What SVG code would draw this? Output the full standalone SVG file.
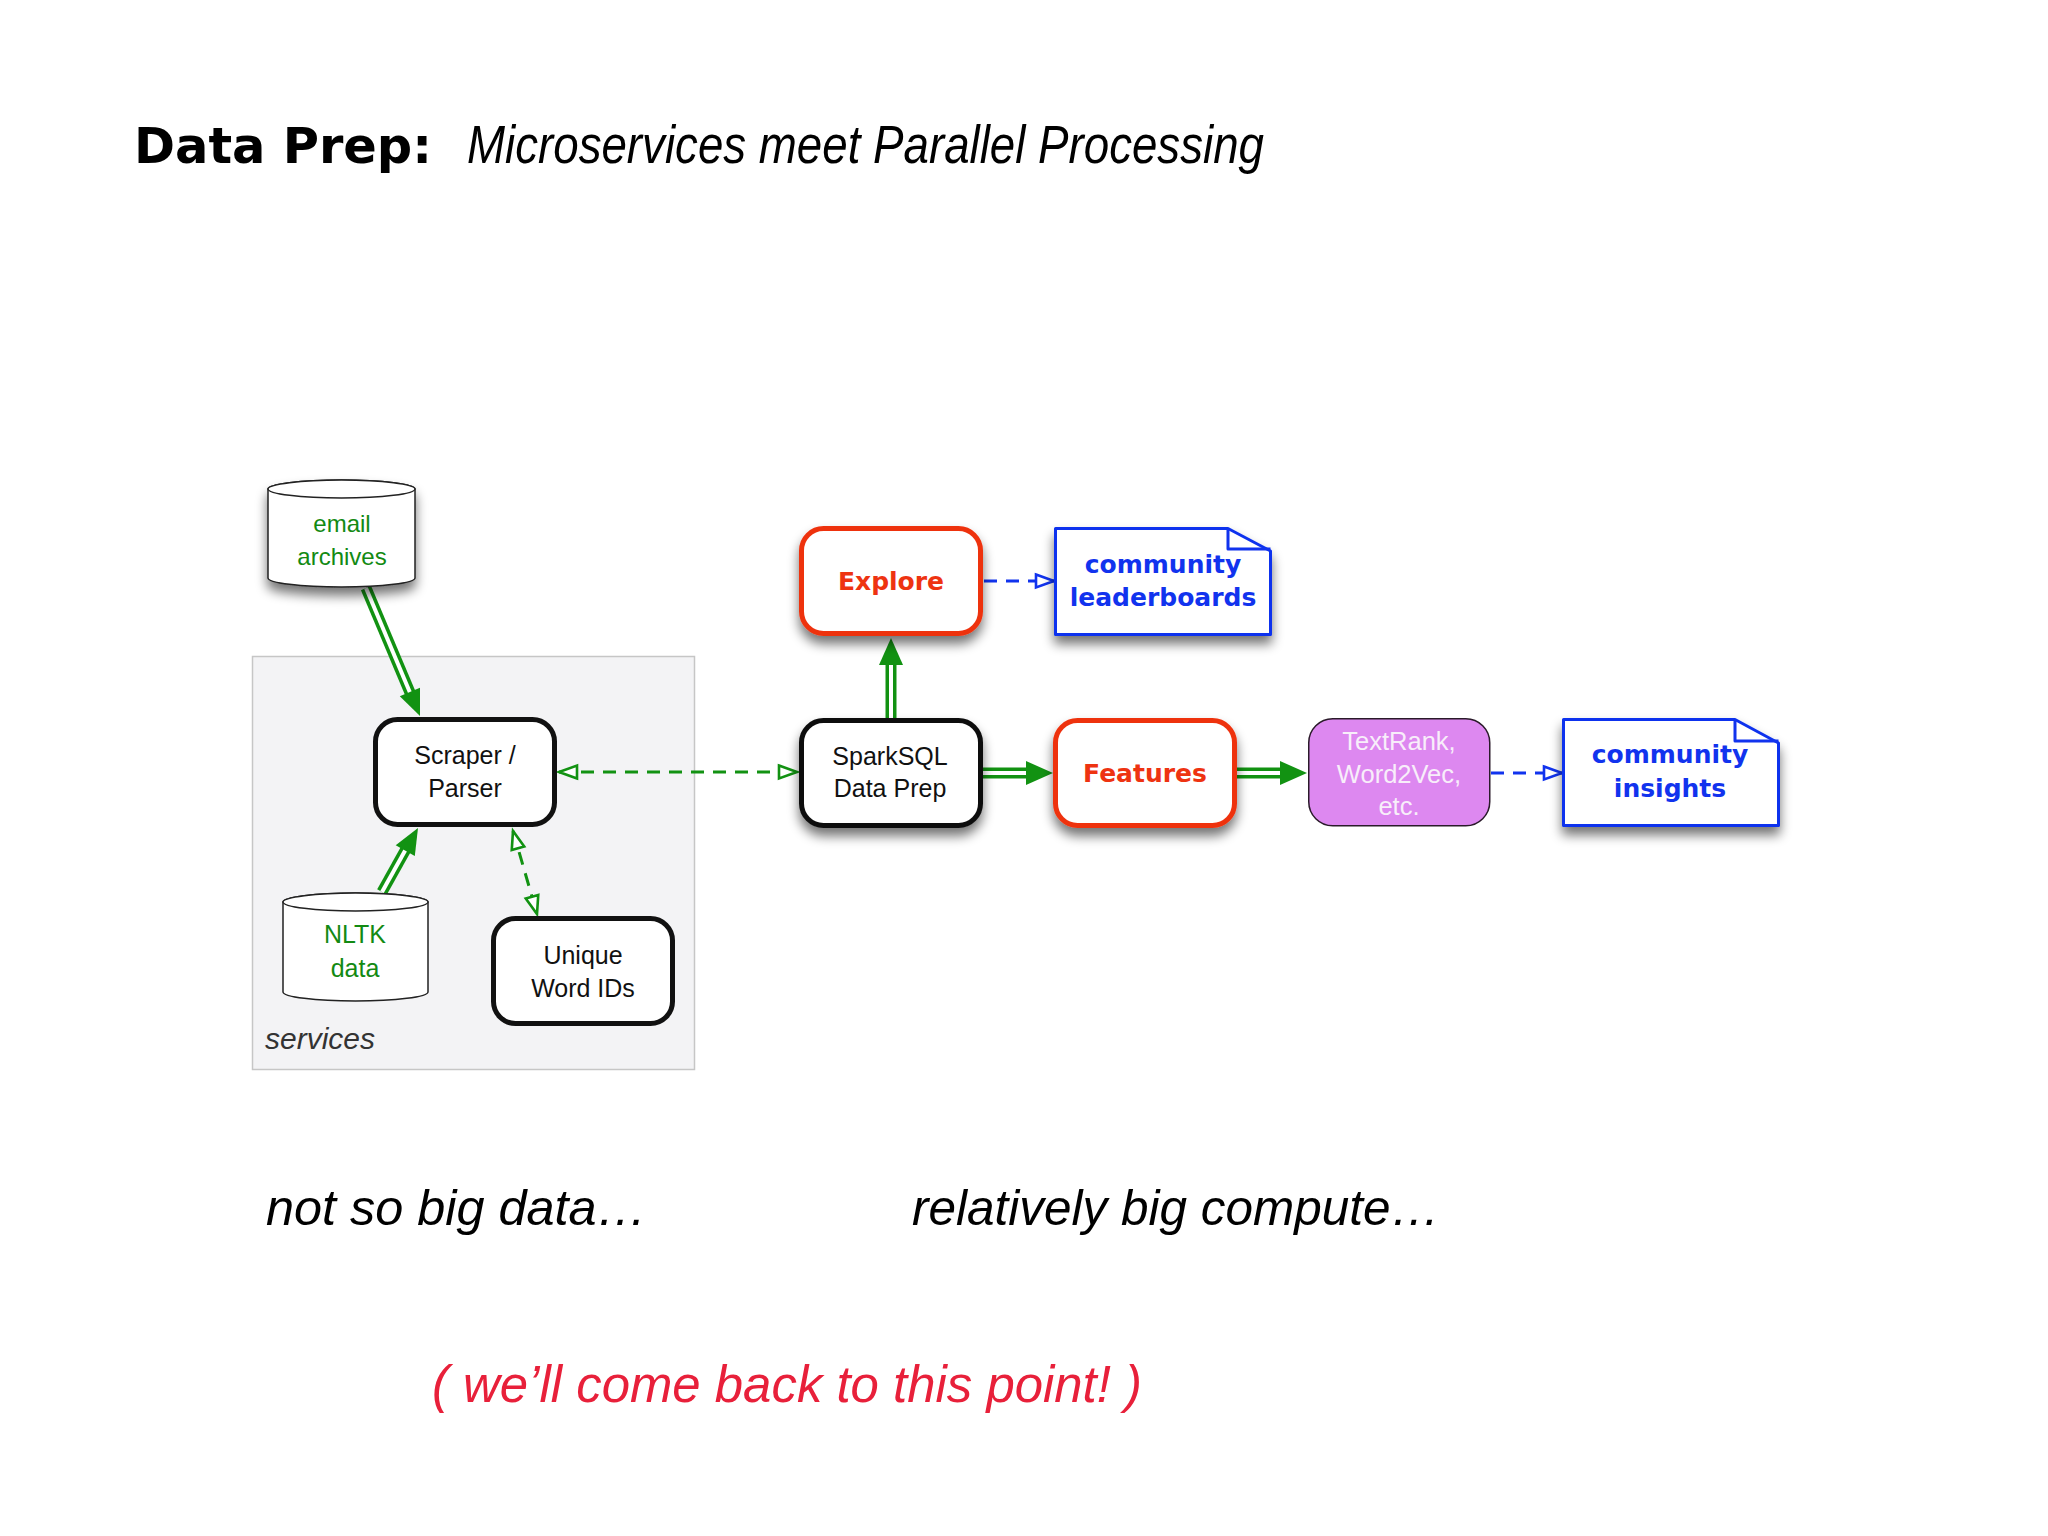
<svg xmlns="http://www.w3.org/2000/svg" width="2048" height="1536" viewBox="0 0 2048 1536">
<style>
.reg{font-family:"Liberation Sans","Noto Sans",sans-serif;text-anchor:middle}
.bold{font-family:"DejaVu Sans","Liberation Sans",sans-serif;font-weight:bold;text-anchor:middle;font-size:25px}
.blk{fill:#111}
.grn{fill:#138a13}
.red{fill:#ee3311}
.blu{fill:#1133ee}
.box{fill:#fff;stroke:#111;stroke-width:5}
.rbox{fill:#fff;stroke:#ee3311;stroke-width:5}
.note{fill:#fff;stroke:#1133ee;stroke-width:3;stroke-linejoin:round}
.fold{fill:none;stroke:#1133ee;stroke-width:3;stroke-linejoin:round}
.cyl{fill:#fff;stroke:#222;stroke-width:1.5}
.dbl-o{fill:none;stroke:#129212;stroke-width:11}
.dbl-i{fill:none;stroke:#fff;stroke-width:4}
.head{fill:#129212}
.dg{fill:none;stroke:#129212;stroke-width:3;stroke-dasharray:13 9}
.db{fill:none;stroke:#1133ee;stroke-width:3;stroke-dasharray:13 9}
.ital{font-family:"Liberation Sans","Noto Sans",sans-serif;font-style:italic}
</style>
<defs>
<filter id="sh" x="-20%" y="-20%" width="140%" height="160%">
<feGaussianBlur in="SourceAlpha" stdDeviation="6"/>
<feOffset dx="0" dy="8" result="b"/>
<feComponentTransfer><feFuncA type="linear" slope="0.55"/></feComponentTransfer>
<feMerge><feMergeNode/><feMergeNode in="SourceGraphic"/></feMerge>
</filter>
<marker id="og" markerUnits="userSpaceOnUse" markerWidth="24" markerHeight="18" refX="20" refY="8" orient="auto-start-reverse" viewBox="0 0 24 16">
<path d="M2,1.5 L20,8 L2,14.5 Z" fill="#fff" stroke="#129212" stroke-width="2.6"/>
</marker>
<marker id="ob" markerUnits="userSpaceOnUse" markerWidth="24" markerHeight="18" refX="20" refY="8" orient="auto-start-reverse" viewBox="0 0 24 16">
<path d="M2,1.5 L20,8 L2,14.5 Z" fill="#fff" stroke="#1133ee" stroke-width="2.6"/>
</marker>
</defs>
<rect width="2048" height="1536" fill="#fff"/>

<g id="title">
<text x="134" y="163" font-family="DejaVu Sans, Liberation Sans, sans-serif" font-weight="bold" font-size="50" fill="#000" textLength="298" lengthAdjust="spacingAndGlyphs">Data Prep:</text>
<text x="467" y="163" class="ital" font-size="53" fill="#000" textLength="797" lengthAdjust="spacingAndGlyphs">Microservices meet Parallel Processing</text>
</g>

<g id="services">
<rect x="252.5" y="656.5" width="442" height="413" fill="#f3f3f5" stroke="#c6c6c6" stroke-width="1.5"/>
<text x="265" y="1049" class="ital" font-size="30" fill="#333">services</text>
</g>

<g id="connectors">
<path class="dg" d="M559,772 L797,772" marker-start="url(#og)" marker-end="url(#og)"/>
<path class="dg" d="M513,831 L537,914" marker-start="url(#og)" marker-end="url(#og)"/>
<path class="db" d="M984,581 L1054,581" marker-end="url(#ob)"/>
<path class="db" d="M1491,773 L1562,773" marker-end="url(#ob)"/>
<path class="dbl-o" d="M366,588 L411,695"/>
<path class="dbl-i" d="M366,588 L411,695"/>
<polygon class="head" points="420,716 399.8,696.3 420,687.7"/>
<path class="dbl-o" d="M382,892 L406,849"/>
<path class="dbl-i" d="M382,892 L406,849"/>
<polygon class="head" points="418,828 414.8,856.1 395.7,845.3"/>
<path class="dbl-o" d="M891,718 L891,662"/>
<path class="dbl-i" d="M891,718 L891,662"/>
<polygon class="head" points="891,638 879,665 903,665"/>
<path class="dbl-o" d="M983,773 L1029,773"/>
<path class="dbl-i" d="M983,773 L1029,773"/>
<polygon class="head" points="1053,773 1026,761 1026,785"/>
<path class="dbl-o" d="M1237,773 L1283,773"/>
<path class="dbl-i" d="M1237,773 L1283,773"/>
<polygon class="head" points="1307,773 1280,761 1280,785"/>
</g>

<g id="email-archives">
<g filter="url(#sh)">
<path class="cyl" d="M268,489 L268,578 A73.5,9 0 0 0 415,578 L415,489 A73.5,9 0 0 0 268,489 Z"/>
</g>
<ellipse class="cyl" cx="341.5" cy="489" rx="73.5" ry="9"/>
<text class="reg grn" x="342" y="532" font-size="24">email</text>
<text class="reg grn" x="342" y="565" font-size="24">archives</text>
</g>

<g id="nltk-data">
<path class="cyl" d="M283,902 L283,992 A72.5,9 0 0 0 428,992 L428,902 A72.5,9 0 0 0 283,902 Z"/>
<ellipse class="cyl" cx="355.5" cy="902" rx="72.5" ry="9"/>
<text class="reg grn" x="355" y="943" font-size="25">NLTK</text>
<text class="reg grn" x="355" y="977" font-size="25">data</text>
</g>

<g id="scraper-parser">
<rect class="box" x="375.5" y="719.5" width="179" height="105" rx="22"/>
<text class="reg blk" x="465" y="764" font-size="25">Scraper /</text>
<text class="reg blk" x="465" y="797" font-size="25">Parser</text>
</g>

<g id="unique-word-ids">
<rect class="box" x="493.5" y="918.5" width="179" height="105" rx="22"/>
<text class="reg blk" x="583" y="964" font-size="25">Unique</text>
<text class="reg blk" x="583" y="997" font-size="25">Word IDs</text>
</g>

<g id="sparksql">
<rect class="box" x="801.5" y="720.5" width="179" height="105" rx="22" filter="url(#sh)"/>
<text class="reg blk" x="890" y="765" font-size="25">SparkSQL</text>
<text class="reg blk" x="890" y="797" font-size="25">Data Prep</text>
</g>

<g id="explore">
<rect class="rbox" x="801.5" y="528.5" width="179" height="105" rx="22" filter="url(#sh)"/>
<text class="bold red" x="891" y="590">Explore</text>
</g>

<g id="community-leaderboards">
<path class="note" d="M1055.5,528.5 H1228 L1270.5,551 V634.5 H1055.5 Z" filter="url(#sh)"/>
<path class="fold" d="M1228,528.5 V549 H1270.5"/>
<text class="bold blu" x="1163" y="573">community</text>
<text class="bold blu" x="1163" y="606">leaderboards</text>
</g>

<g id="features">
<rect class="rbox" x="1055.5" y="720.5" width="179" height="105" rx="22" filter="url(#sh)"/>
<text class="bold red" x="1145" y="782">Features</text>
</g>

<g id="textrank">
<rect x="1308.75" y="718.75" width="181" height="107" rx="24" fill="#dd88f0" stroke="#2a1a2a" stroke-width="1.5"/>
<text class="reg" x="1399" y="750" font-size="25.5" fill="#f8eefa">TextRank,</text>
<text class="reg" x="1399" y="783" font-size="25.5" fill="#f8eefa">Word2Vec,</text>
<text class="reg" x="1399" y="815" font-size="25.5" fill="#f8eefa">etc.</text>
</g>

<g id="community-insights">
<path class="note" d="M1563.5,719.5 H1735 L1778.5,743 V825.5 H1563.5 Z" filter="url(#sh)"/>
<path class="fold" d="M1735,719.5 V741 H1778.5"/>
<text class="bold blu" x="1670" y="763">community</text>
<text class="bold blu" x="1670" y="797">insights</text>
</g>

<g id="captions">
<text x="266" y="1225" class="ital" font-size="50" fill="#000" textLength="381" lengthAdjust="spacingAndGlyphs">not so big data…</text>
<text x="912" y="1225" class="ital" font-size="50" fill="#000" textLength="528" lengthAdjust="spacingAndGlyphs">relatively big compute…</text>
<text x="432" y="1402" class="ital" font-size="52" fill="#e8203a" textLength="710" lengthAdjust="spacingAndGlyphs">( we’ll come back to this point! )</text>
</g>
</svg>
